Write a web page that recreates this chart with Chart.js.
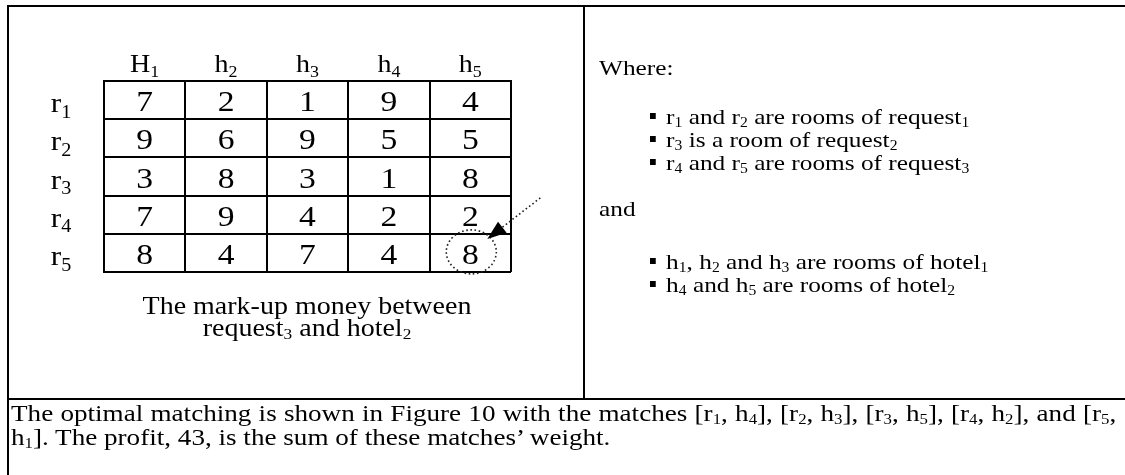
<!DOCTYPE html>
<html><head>
<meta charset="UTF-8">
<title>Mark-up money matrix</title>
<script src="https://cdn.jsdelivr.net/npm/chart.js"></script>
<style>
  html, body { margin: 0; padding: 0; background: #fff; }
  body {
    width: 1125px; height: 475px; position: relative; overflow: hidden;
    font-family: 'Liberation Serif', 'Times New Roman', serif; color: #000;
  }
  #matrix { position: absolute; left: 0; top: 0; }
  .frame { position: absolute; left: 7px; top: 5px; width: 1200px; height: 600px; border: 2px solid #000; }
  .vdiv { position: absolute; left: 583px; top: 5px; width: 2px; height: 395px; background: #000; }
  .hdiv { position: absolute; left: 7px; top: 398px; width: 1200px; height: 2px; background: #000; }
  .t {
    position: absolute; white-space: nowrap; line-height: 1;
    transform: scaleX(1.13); transform-origin: 0 0;
  }
  .s { font-size: 0.62em; position: relative; top: 0.2em; }
  .side { font-size: 22px; transform: scaleX(1.15); }
  .bul { display: inline-block; width: 5px; height: 6px; background: #000; margin-right: 9px; position: relative; top: -5px; }
  .caption { font-size: 25px; left: 107px; width: 400px; text-align: center; transform: scaleX(1.12); transform-origin: 50% 0; }
  .note { font-size: 24px; left: 11px; width: 978px; line-height: 21px; }
  .note .l1 { text-align: justify; text-align-last: justify; }
</style>
</head>
<body>
<canvas id="matrix" width="1125" height="475"></canvas>

<div class="frame"></div>
<div class="vdiv"></div>
<div class="hdiv"></div>

<div class="t caption" style="top:293px">The mark-up money between</div>
<div class="t caption" style="top:315px">request<span class="s">3</span> and hotel<span class="s">2</span></div>

<div class="t side" style="left:599px; top:57px">Where:</div>
<div class="t side" style="left:650px; top:106px"><span class="bul"></span>r<span class="s">1</span> and r<span class="s">2</span> are rooms of request<span class="s">1</span></div>
<div class="t side" style="left:650px; top:129px"><span class="bul"></span>r<span class="s">3</span> is a room of request<span class="s">2</span></div>
<div class="t side" style="left:650px; top:152px"><span class="bul"></span>r<span class="s">4</span> and r<span class="s">5</span> are rooms of request<span class="s">3</span></div>
<div class="t side" style="left:599px; top:198px">and</div>
<div class="t side" style="left:650px; top:251px"><span class="bul"></span>h<span class="s">1</span>, h<span class="s">2</span> and h<span class="s">3</span> are rooms of hotel<span class="s">1</span></div>
<div class="t side" style="left:650px; top:274px"><span class="bul"></span>h<span class="s">4</span> and h<span class="s">5</span> are rooms of hotel<span class="s">2</span></div>

<div class="t note" style="top:403px">
  <div class="l1">The optimal matching is shown in Figure 10 with the matches [r<span class="s">1</span>, h<span class="s">4</span>], [r<span class="s">2</span>, h<span class="s">3</span>], [r<span class="s">3</span>, h<span class="s">5</span>], [r<span class="s">4</span>, h<span class="s">2</span>], and [r<span class="s">5</span>,</div>
  <div>h<span class="s">1</span>]. The profit, 43, is the sum of these matches’ weight.</div>
</div>

<script>
// hotel rooms (columns) and request rooms (rows)
const hotels = ['H1', 'h2', 'h3', 'h4', 'h5'];
const rooms = ['r1', 'r2', 'r3', 'r4', 'r5'];

// mark-up money, one array per request room
const markupR1 = [7, 2, 1, 9, 4];
const markupR2 = [9, 6, 9, 5, 5];
const markupR3 = [3, 8, 3, 1, 8];
const markupR4 = [7, 9, 4, 2, 2];
const markupR5 = [8, 4, 7, 4, 8];
const markup = [markupR1, markupR2, markupR3, markupR4, markupR5];

// the circled cell (request3 / hotel2 example)
const markedHotel = 'h5';
const markedRoom = 'r5';

const STRETCH = 1.12;
const FONT = '"Liberation Serif", "Times New Roman", serif';

const cells = [];
rooms.forEach(function (r, i) {
  hotels.forEach(function (h, j) {
    cells.push({ x: h, y: r, v: markup[i][j] });
  });
});

// draws "r1" style label with the trailing part as a subscript, centred on x
function drawLabel(ctx, text, x, y, size) {
  var base = text.slice(0, 1), sub = text.slice(1);
  var subSize = Math.round(size * 0.64);
  ctx.font = size + 'px ' + FONT;
  var wb = ctx.measureText(base).width;
  ctx.font = subSize + 'px ' + FONT;
  var ws = ctx.measureText(sub).width;
  ctx.save();
  ctx.translate(x, y);
  ctx.scale(STRETCH, 1);
  ctx.textAlign = 'left';
  ctx.textBaseline = 'alphabetic';
  ctx.fillStyle = '#000';
  var x0 = -(wb + ws) / 2;
  ctx.font = size + 'px ' + FONT;
  ctx.fillText(base, x0, 0);
  ctx.font = subSize + 'px ' + FONT;
  ctx.fillText(sub, x0 + wb, size * 0.2);
  ctx.restore();
}

const tablePlugin = {
  id: 'tableText',
  afterDatasetsDraw: function (chart) {
    var ctx = chart.ctx;
    var xs = chart.scales.x, ys = chart.scales.y;
    var area = chart.chartArea;

    // cell values
    var meta = chart.getDatasetMeta(0);
    meta.data.forEach(function (pt, k) {
      var v = chart.data.datasets[0].data[k].v;
      ctx.save();
      ctx.translate(pt.x, pt.y);
      ctx.scale(STRETCH, 1);
      ctx.font = '30px ' + FONT;
      ctx.fillStyle = '#000';
      ctx.textAlign = 'center';
      ctx.textBaseline = 'alphabetic';
      ctx.fillText(String(v), 0, 11);
      ctx.restore();
    });

    // column labels above, row labels to the left
    hotels.forEach(function (h, j) {
      drawLabel(ctx, h, xs.getPixelForValue(j), area.top - 9, 25);
    });
    rooms.forEach(function (r, i) {
      drawLabel(ctx, r, area.left - 43, ys.getPixelForValue(i) + 12, 28);
    });

    // dotted circle round the marked cell, with a dotted arrow pointing at it
    var cx = xs.getPixelForValue(hotels.indexOf(markedHotel));
    var cy = ys.getPixelForValue(rooms.indexOf(markedRoom));
    ctx.save();
    ctx.strokeStyle = '#222';
    ctx.lineWidth = 1.6;
    ctx.setLineDash([1.6, 2.6]);
    ctx.beginPath();
    ctx.ellipse(cx + 1, cy - 1, 25, 22, 0, 0, Math.PI * 2);
    ctx.stroke();

    var sx = cx + 70, sy = cy - 55, tx = cx + 17, ty = cy - 14;
    var ang = Math.atan2(ty - sy, tx - sx);
    var len = 19, half = 7;
    var bx = tx - len * Math.cos(ang), by = ty - len * Math.sin(ang);
    ctx.beginPath();
    ctx.moveTo(sx, sy);
    ctx.lineTo(bx, by);
    ctx.stroke();
    ctx.setLineDash([]);
    ctx.fillStyle = '#000';
    ctx.beginPath();
    ctx.moveTo(tx, ty);
    ctx.lineTo(bx + half * Math.sin(ang), by - half * Math.cos(ang));
    ctx.lineTo(bx - half * Math.sin(ang), by + half * Math.cos(ang));
    ctx.closePath();
    ctx.fill();
    ctx.restore();
  }
};

new Chart(document.getElementById('matrix'), {
  type: 'scatter',
  data: {
    datasets: [{
      data: cells,
      pointRadius: 0,
      pointHoverRadius: 0,
      showLine: false
    }]
  },
  options: {
    responsive: false,
    animation: false,
    events: [],
    layout: { padding: { left: 104, top: 81, right: 614, bottom: 203 } },
    plugins: { legend: { display: false }, tooltip: { enabled: false } },
    scales: {
      x: {
        type: 'category',
        labels: hotels,
        offset: true,
        position: 'top',
        grid: { offset: true, color: '#000', lineWidth: 2, drawTicks: false },
        border: { display: true, color: '#000', width: 2 },
        ticks: { display: false }
      },
      y: {
        type: 'category',
        labels: rooms,
        offset: true,
        grid: { offset: true, color: '#000', lineWidth: 2, drawTicks: false },
        border: { display: true, color: '#000', width: 2 },
        ticks: { display: false }
      }
    }
  },
  plugins: [tablePlugin]
});
</script>
</body>
</html>
